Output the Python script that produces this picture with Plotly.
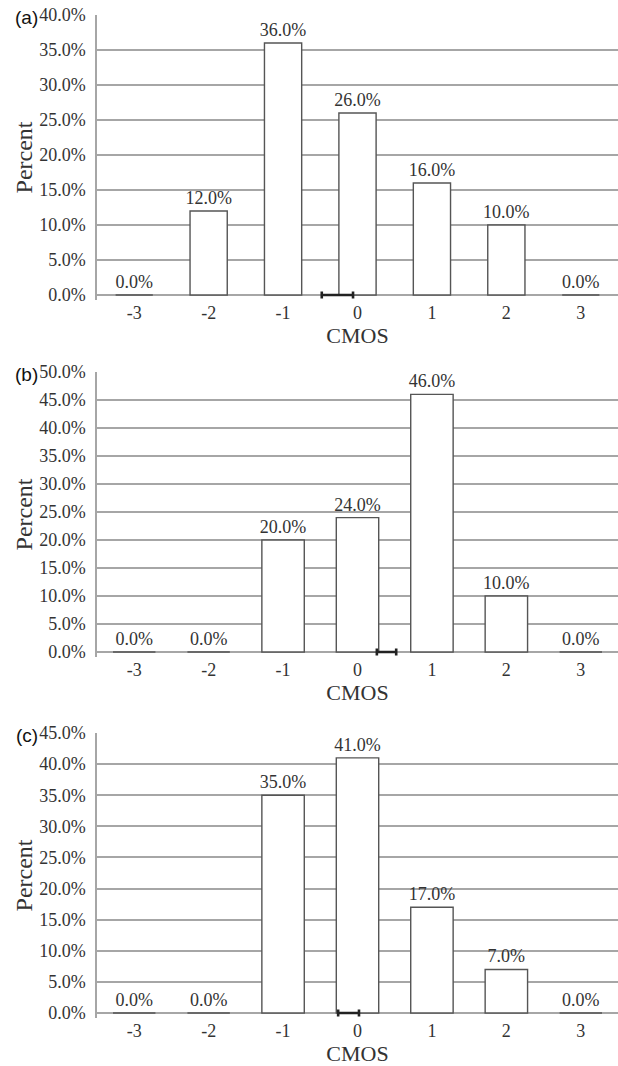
import plotly.graph_objects as go

# ---- data ----
cmos = [-3, -2, -1, 0, 1, 2, 3]
tick_text = ["-3", "-2", "-1", "0", "1", "2", "3"]
pct_a = [0.0, 12.0, 36.0, 26.0, 16.0, 10.0, 0.0]
pct_b = [0.0, 0.0, 20.0, 24.0, 46.0, 10.0, 0.0]
pct_c = [0.0, 0.0, 35.0, 41.0, 17.0, 7.0, 0.0]
mean_a, ci_a = -0.27, 0.21
mean_b, ci_b = 0.39, 0.13
mean_c, ci_c = -0.12, 0.14
ymax = [40, 50, 45]
panel_labels = ["(a)", "(b)", "(c)"]

W, H = 618, 1066
L, R, T, B = 97, 0, 0, 0
plot_w = W - L - R

# pixel rows of each panel (top, zero line)
rows_px = [(15, 295), (372, 652), (733, 1013)]
bargaps = [0.5, 0.43, 0.43]
pad_px = 5  # room below zero so the error bar caps are not clipped

serif = "Liberation Serif, Times New Roman, serif"
sans = "Liberation Sans, Arial, sans-serif"
grid_col = "#a6a6a6"
txt_col = "#333333"

fig = go.Figure()
layout = dict(
    width=W, height=H,
    margin=dict(l=L, r=R, t=T, b=B, autoexpand=False),
    paper_bgcolor="white", plot_bgcolor="white",
    showlegend=False,
    annotations=[],
)

series = [(pct_a, mean_a, ci_a), (pct_b, mean_b, ci_b), (pct_c, mean_c, ci_c)]
for i, (vals, m, ci) in enumerate(series):
    n = i + 1
    xa = "x" if n == 1 else f"x{n}"
    ya = "y" if n == 1 else f"y{n}"
    top, zero = rows_px[i]
    bot = zero + pad_px
    dom = [1 - bot / H, 1 - top / H]
    ylow = -ymax[i] * pad_px / (zero - top)
    width = 1 - bargaps[i]
    fig.add_trace(go.Bar(
        x=cmos, y=vals, xaxis=xa, yaxis=ya,
        width=[width] * len(cmos),
        marker=dict(color="white", line=dict(color="#555555", width=1.4)),
        text=vals, texttemplate="%{y:.1f}%", textposition="outside",
        constraintext="none",
        textfont=dict(family=serif, size=18, color=txt_col),
        cliponaxis=False,
    ))
    fig.add_trace(go.Scatter(
        x=[m], y=[0], xaxis=xa, yaxis=ya, mode="markers",
        marker=dict(size=1, opacity=0),
        error_x=dict(type="data", array=[ci], color="#222222", thickness=2.6, width=3.5),
        cliponaxis=False,
    ))
    xkey = "xaxis" if n == 1 else f"xaxis{n}"
    ykey = "yaxis" if n == 1 else f"yaxis{n}"
    layout[xkey] = dict(
        domain=[0, 1], anchor=ya, range=[-3.5, 3.5],
        tickmode="array", tickvals=cmos, ticktext=tick_text,
        showgrid=False, zeroline=False, showline=False, ticks="",
        tickfont=dict(family=serif, size=18, color=txt_col),
        ticklabelstandoff=0,
        title=dict(text="CMOS", font=dict(family=serif, size=22, color=txt_col), standoff=4),
        automargin=False,
    )
    layout[ykey] = dict(
        domain=dom, anchor=xa, range=[ylow, ymax[i]],
        tickmode="linear", tick0=0, dtick=5,
        tickformat=".1f", ticksuffix="%",
        showgrid=True, gridcolor=grid_col, gridwidth=1.5,
        zeroline=True, zerolinecolor=grid_col, zerolinewidth=1.6,
        showline=True, linecolor=grid_col, linewidth=1.5,
        layer="below traces",
        ticks="", ticklabelstandoff=6,
        tickfont=dict(family=serif, size=18, color=txt_col),
        title=dict(text="Percent", font=dict(family=serif, size=24, color=txt_col), standoff=0),
        automargin=False,
    )
    layout["annotations"].append(dict(
        text=panel_labels[i], xref="paper", yref="paper",
        x=(40 - L) / plot_w, y=1 - (top + 2) / H, xanchor="right", yanchor="middle",
        showarrow=False, font=dict(family=sans, size=19, color="#111111"),
    ))

fig.update_layout(**layout)
fig.write_html(
    "out.html",
    config={"displayModeBar": False},
    post_script="document.body.style.margin='0';document.body.style.overflow='hidden';",
)
